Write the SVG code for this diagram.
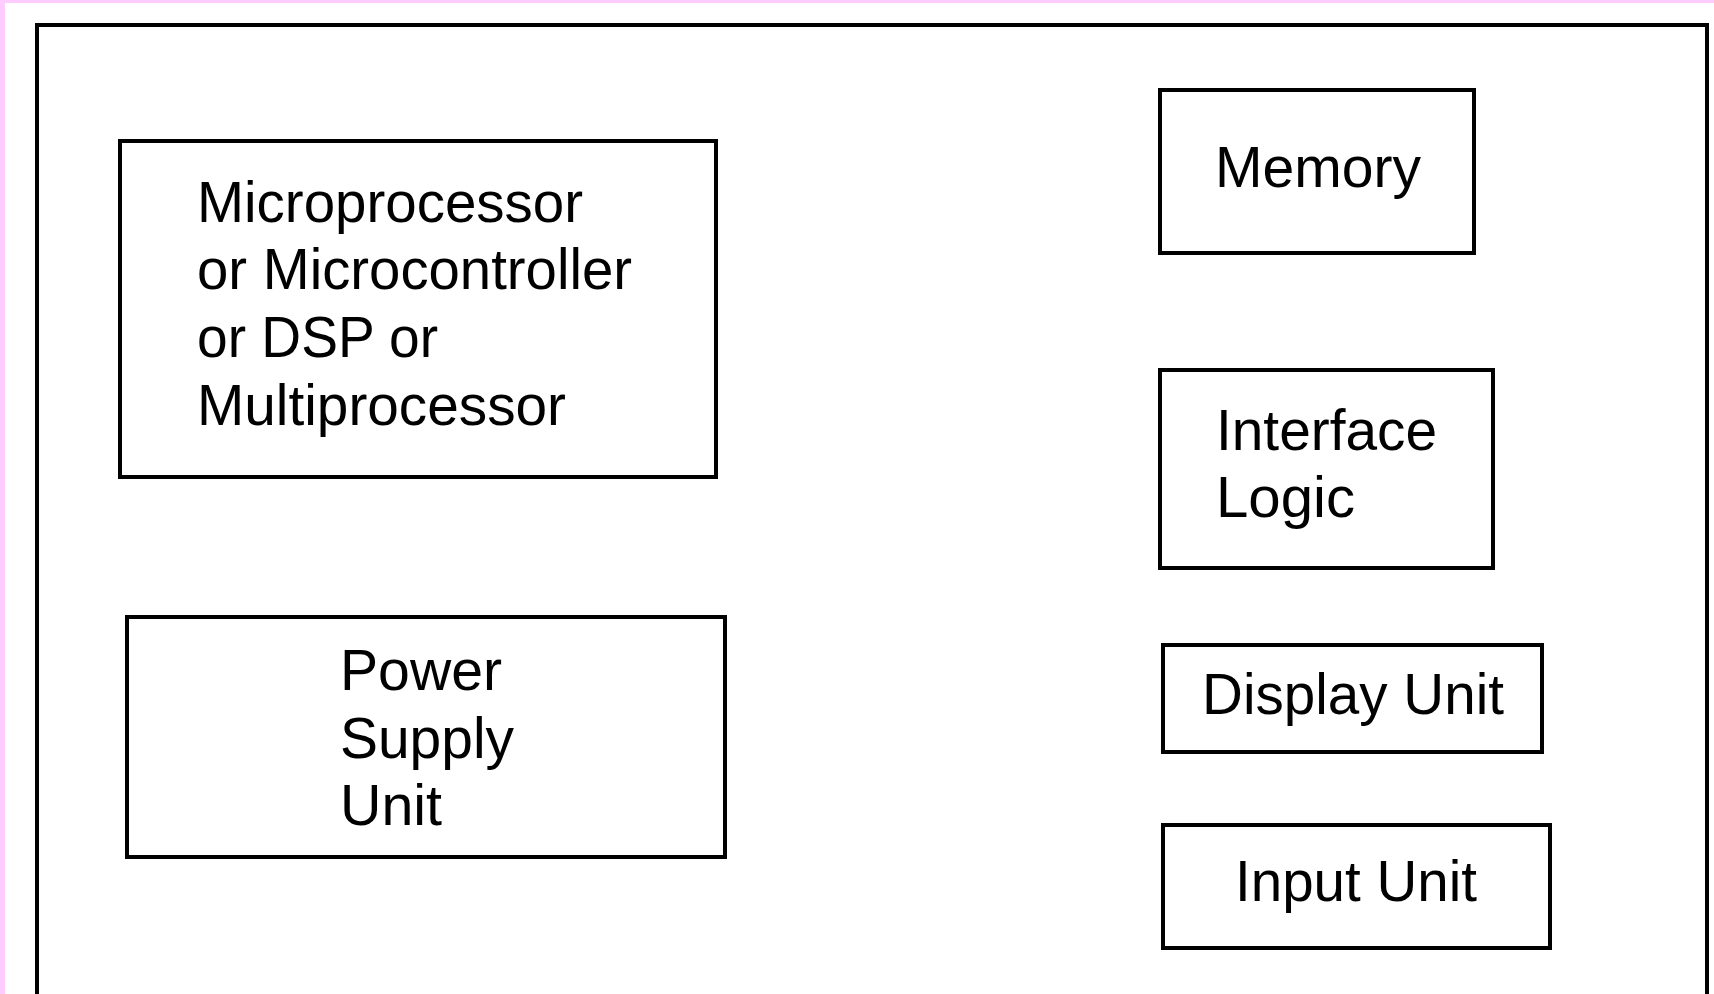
<svg xmlns="http://www.w3.org/2000/svg" width="1714" height="994" viewBox="0 0 1714 994">
  <style>
    .box { fill: none; stroke: #000; stroke-width: 4; shape-rendering: crispEdges; }
    .lbl { font-family: "Liberation Sans", Arial, sans-serif; font-size: 58px; fill: #000; }
  </style>
  <!-- page background with pink margin on the left and top -->
  <rect x="0" y="0" width="1714" height="994" fill="#ffccff"/>
  <rect x="5" y="3" width="1709" height="991" fill="#ffffff"/>

  <!-- enclosing system frame (open at the bottom edge of the page) -->
  <g id="frame">
    <rect class="box" x="37" y="25" width="1670" height="990"/>
  </g>

  <g id="processor">
    <rect class="box" x="120" y="141" width="596" height="336"/>
    <text class="lbl" x="197" y="222" textLength="386" lengthAdjust="spacingAndGlyphs">Microprocessor</text>
    <text class="lbl" x="197" y="289" textLength="435" lengthAdjust="spacingAndGlyphs">or Microcontroller</text>
    <text class="lbl" x="197" y="357" textLength="241" lengthAdjust="spacingAndGlyphs">or DSP or</text>
    <text class="lbl" x="197" y="425" textLength="369" lengthAdjust="spacingAndGlyphs">Multiprocessor</text>
  </g>

  <g id="power-supply">
    <rect class="box" x="127" y="617" width="598" height="240"/>
    <text class="lbl" x="340" y="690" textLength="162" lengthAdjust="spacingAndGlyphs">Power</text>
    <text class="lbl" x="340" y="758" textLength="174" lengthAdjust="spacingAndGlyphs">Supply</text>
    <text class="lbl" x="340" y="825" textLength="102" lengthAdjust="spacingAndGlyphs">Unit</text>
  </g>

  <g id="memory">
    <rect class="box" x="1160" y="90" width="314" height="163"/>
    <text class="lbl" x="1215" y="187" textLength="206" lengthAdjust="spacingAndGlyphs">Memory</text>
  </g>

  <g id="interface-logic">
    <rect class="box" x="1160" y="370" width="333" height="198"/>
    <text class="lbl" x="1216" y="450" textLength="221" lengthAdjust="spacingAndGlyphs">Interface</text>
    <text class="lbl" x="1216" y="517" textLength="139" lengthAdjust="spacingAndGlyphs">Logic</text>
  </g>

  <g id="display-unit">
    <rect class="box" x="1163" y="645" width="379" height="107"/>
    <text class="lbl" x="1202" y="714" textLength="302" lengthAdjust="spacingAndGlyphs">Display Unit</text>
  </g>

  <g id="input-unit">
    <rect class="box" x="1163" y="825" width="387" height="123"/>
    <text class="lbl" x="1235" y="901" textLength="242" lengthAdjust="spacingAndGlyphs">Input Unit</text>
  </g>

  <!-- no connectors are drawn between the blocks -->
  <g id="connectors"/>
</svg>
